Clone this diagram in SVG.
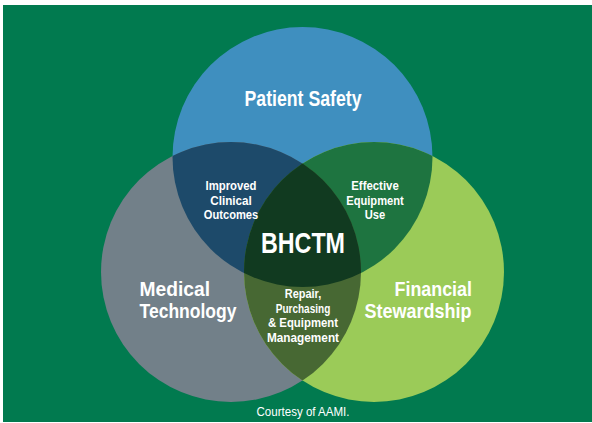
<svg xmlns="http://www.w3.org/2000/svg" width="592" height="423" viewBox="0 0 592 423">
<style>
text{font-family:"Liberation Sans","Arial",sans-serif;fill:#ffffff;font-weight:bold}
.big{font-size:21px}
.sm{font-size:13px;text-anchor:middle}
.c{text-anchor:middle}
.note{font-size:13.5px;font-weight:normal;text-anchor:middle}
</style>
<defs>
<clipPath id="cA"><circle cx="302.5" cy="157" r="130"/></clipPath>
<clipPath id="cB"><circle cx="231" cy="272" r="130"/></clipPath>
<clipPath id="cC"><circle cx="374" cy="272" r="130"/></clipPath>
</defs>
<rect x="0" y="0" width="592" height="423" fill="#ffffff"/>
<rect x="3" y="5" width="589" height="417" fill="#017A4F"/>
<g id="patient-safety">
<circle cx="302.5" cy="157" r="130" fill="#3F8FBF"/>
</g>
<g id="medical-technology">
<circle cx="231" cy="272" r="130" fill="#728089"/>
</g>
<g id="financial-stewardship">
<circle cx="374" cy="272" r="130" fill="#9BCB58"/>
</g>
<g id="improved-clinical-outcomes" clip-path="url(#cA)">
<circle cx="231" cy="272" r="130" fill="#1D4A6A"/>
</g>
<g id="effective-equipment-use" clip-path="url(#cA)">
<circle cx="374" cy="272" r="130" fill="#1E7440"/>
</g>
<g id="repair-purchasing" clip-path="url(#cB)">
<circle cx="374" cy="272" r="130" fill="#476833"/>
</g>
<g id="bhctm" clip-path="url(#cA)">
<g clip-path="url(#cB)">
<circle cx="374" cy="272" r="130" fill="#113A20"/>
</g>
</g>
<g id="connectors"></g>
<g id="labels">
<text class="big c" x="303" y="106" font-size="22" style="font-size:22px" textLength="117" lengthAdjust="spacingAndGlyphs">Patient Safety</text>
<text class="big" x="139.5" y="296" textLength="70.5" lengthAdjust="spacingAndGlyphs">Medical</text>
<text class="big" x="139.5" y="318" textLength="97" lengthAdjust="spacingAndGlyphs">Technology</text>
<text class="big" x="394.5" y="296" textLength="77.5" lengthAdjust="spacingAndGlyphs">Financial</text>
<text class="big" x="364.5" y="318" textLength="107" lengthAdjust="spacingAndGlyphs">Stewardship</text>
<text class="c" x="303" y="252.5" font-size="30" textLength="84" lengthAdjust="spacingAndGlyphs">BHCTM</text>
<text class="sm" x="231" y="190" textLength="51" lengthAdjust="spacingAndGlyphs">Improved</text>
<text class="sm" x="231" y="204.5" textLength="41.5" lengthAdjust="spacingAndGlyphs">Clinical</text>
<text class="sm" x="231" y="218.5" textLength="54.5" lengthAdjust="spacingAndGlyphs">Outcomes</text>
<text class="sm" x="375" y="190" textLength="47.5" lengthAdjust="spacingAndGlyphs">Effective</text>
<text class="sm" x="375" y="204.5" textLength="57.5" lengthAdjust="spacingAndGlyphs">Equipment</text>
<text class="sm" x="375" y="218.5" textLength="20.5" lengthAdjust="spacingAndGlyphs">Use</text>
<text class="sm" x="303" y="298" textLength="36.5" lengthAdjust="spacingAndGlyphs">Repair,</text>
<text class="sm" x="303" y="312.5" textLength="54.5" lengthAdjust="spacingAndGlyphs">Purchasing</text>
<text class="sm" x="303" y="327" textLength="70" lengthAdjust="spacingAndGlyphs">&amp; Equipment</text>
<text class="sm" x="303" y="341.5" textLength="72" lengthAdjust="spacingAndGlyphs">Management</text>
<text class="note" x="303" y="416" textLength="93" lengthAdjust="spacingAndGlyphs">Courtesy of AAMI.</text>
</g>
</svg>
